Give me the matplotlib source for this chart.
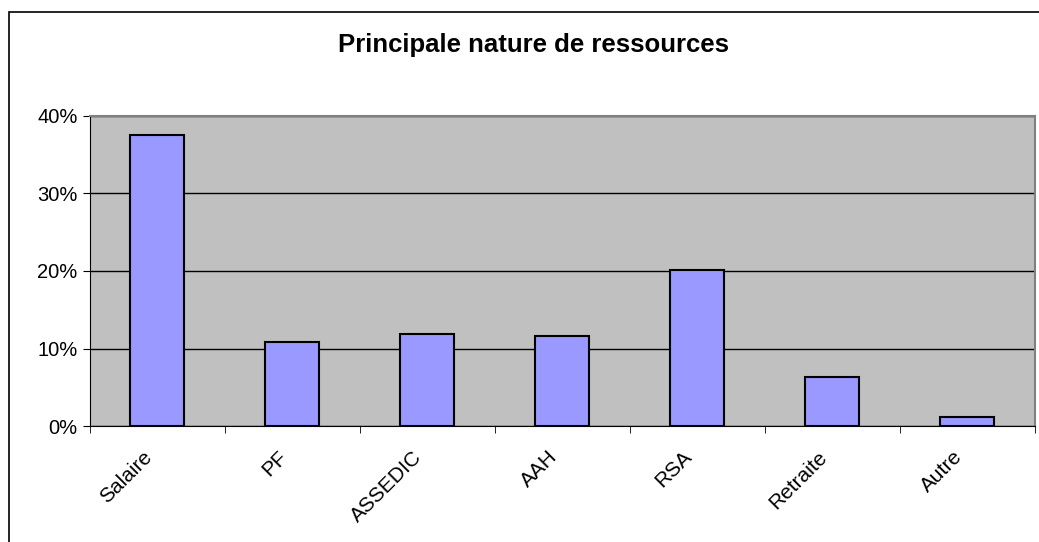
import matplotlib
matplotlib.use("Agg")
import matplotlib.pyplot as plt
from matplotlib.patches import Rectangle
from matplotlib.transforms import ScaledTranslation
from matplotlib.ticker import FixedLocator, PercentFormatter

# data
categories = ["Salaire", "PF", "ASSEDIC", "AAH", "RSA", "Retraite", "Autre"]
values = [37.5, 10.9, 11.9, 11.6, 20.1, 6.4, 1.2]
y_ticks = [0, 10, 20, 30, 40]
title = "Principale nature de ressources"

plt.rcParams['font.family'] = ['Liberation Sans', 'DejaVu Sans']

fig = plt.figure(figsize=(10.39, 5.42), dpi=100)
ax = fig.add_axes([90 / 1039, 1 - 426.3 / 542, (1034.5 - 90) / 1039, (426.3 - 115.7) / 542])

# outer chart frame (right and bottom are cut off in the reference)
fig.patches.append(Rectangle((9 / 1039, -0.1), 1.2, 1 - 12 / 542 + 0.1,
                             transform=fig.transFigure, fill=False,
                             edgecolor='black', linewidth=1.2))

ax.set_facecolor('#C0C0C0')
x = list(range(len(categories)))
ax.bar(x, values, width=0.4, color='#9999FF', edgecolor='black', linewidth=1.5, zorder=3)

ax.set_xlim(-0.5, len(categories) - 0.5)
ax.set_ylim(0, 40)
ax.set_yticks(y_ticks)
ax.yaxis.set_major_formatter(PercentFormatter(decimals=0))
ax.grid(axis='y', color='black', linewidth=1, zorder=1)
ax.set_axisbelow(True)

ax.set_xticks(x)
ax.set_xticklabels(categories, rotation=45, ha='right', va='center', rotation_mode='anchor')
ax.xaxis.set_minor_locator(FixedLocator([i - 0.5 for i in range(len(categories) + 1)]))
ax.tick_params(axis='x', which='major', length=0, pad=20, labelsize=15)
ax.tick_params(axis='x', which='minor', length=5, direction='out', color='black')
ax.tick_params(axis='y', length=5, direction='out', labelsize=14.5, pad=4)

offset = ScaledTranslation(-8 / 100, 0, fig.dpi_scale_trans)
for lbl in ax.get_xticklabels():
    lbl.set_transform(lbl.get_transform() + offset)

for side in ['left', 'bottom']:
    ax.spines[side].set_color('black')
for side in ['top', 'right']:
    ax.spines[side].set_color('#808080')
    ax.spines[side].set_linewidth(1.5)

fig.text(534 / 1039, 1 - 45 / 542, title, ha='center', va='center',
         fontsize=18.5, fontweight='bold')

fig.savefig("out.png", dpi=100)
